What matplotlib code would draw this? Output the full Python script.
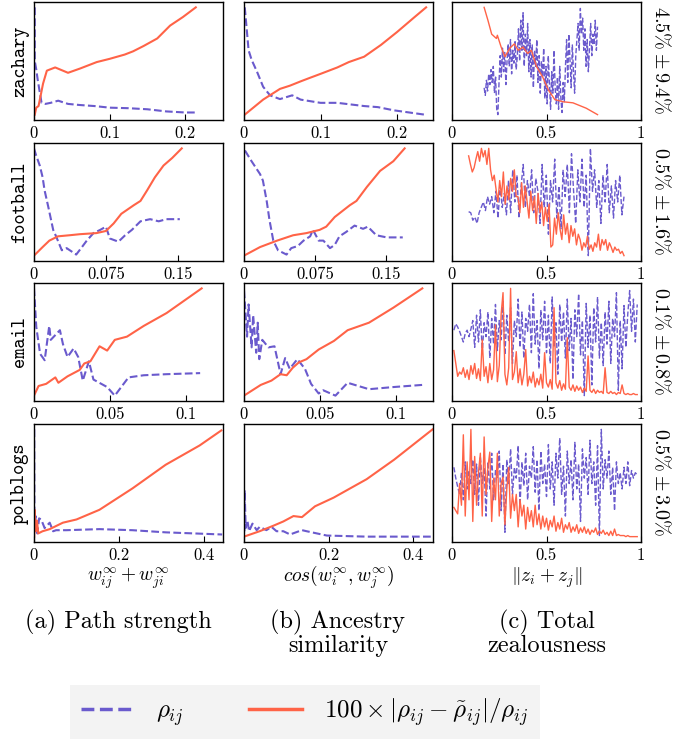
import numpy as np
import matplotlib
matplotlib.use('Agg')
import matplotlib.pyplot as plt
from matplotlib.lines import Line2D

plt.rcParams['font.family'] = 'cmr10'
plt.rcParams['mathtext.fontset'] = 'cm'
plt.rcParams['axes.unicode_minus'] = False

BLUE = '#6a5acd'
RED = '#ff6347'

# ---- data (each curve normalised to [0, 1]) ----
datasets = ['zachary', 'football', 'email', 'polblogs']
spreads = [r'$4.5\%\pm9.4\%$', r'$0.5\%\pm1.6\%$', r'$0.1\%\pm0.8\%$', r'$0.5\%\pm3.0\%$']

# path strength
zach_path_x_rho = [0.001, 0.001, 0.003, 0.005, 0.01, 0.015, 0.022, 0.032, 0.045, 0.06, 0.08, 0.1, 0.125, 0.15, 0.175, 0.2, 0.213]
zach_path_rho = [1.0, 0.5, 0.42, 0.32, 0.11, 0.10, 0.11, 0.13, 0.10, 0.09, 0.08, 0.065, 0.06, 0.05, 0.03, 0.02, 0.02]
zach_path_x_err = [0.001, 0.003, 0.006, 0.012, 0.017, 0.028, 0.045, 0.061, 0.083, 0.1, 0.12, 0.131, 0.145, 0.163, 0.18, 0.197, 0.214]
zach_path_err = [0.0, 0.065, 0.08, 0.29, 0.41, 0.44, 0.39, 0.43, 0.49, 0.52, 0.56, 0.59, 0.64, 0.71, 0.83, 0.91, 1.0]

foot_path_x_rho = [0.0, 0.002, 0.006, 0.009, 0.011, 0.015, 0.02, 0.023, 0.029, 0.034, 0.039, 0.044, 0.05, 0.055, 0.062, 0.069, 0.075, 0.079, 0.088, 0.095, 0.102, 0.111, 0.121, 0.13, 0.138, 0.152]
foot_path_rho = [1.0, 0.94, 0.84, 0.73, 0.61, 0.45, 0.24, 0.18, 0.05, 0.07, 0.04, 0.01, 0.08, 0.14, 0.21, 0.24, 0.27, 0.16, 0.13, 0.19, 0.24, 0.32, 0.34, 0.32, 0.34, 0.34]
foot_path_x_err = [0.0, 0.009, 0.016, 0.025, 0.037, 0.048, 0.065, 0.075, 0.083, 0.091, 0.104, 0.111, 0.118, 0.126, 0.135, 0.144, 0.154]
foot_path_err = [0.0, 0.08, 0.14, 0.18, 0.19, 0.20, 0.21, 0.23, 0.30, 0.39, 0.47, 0.51, 0.61, 0.73, 0.84, 0.91, 1.0]

email_path_x_rho = [0.0, 0.0015, 0.004, 0.007, 0.01, 0.011, 0.015, 0.017, 0.019, 0.022, 0.026, 0.029, 0.032, 0.036, 0.039, 0.048, 0.053, 0.062, 0.072, 0.087, 0.109]
email_path_rho = [1.0, 0.64, 0.39, 0.33, 0.65, 0.52, 0.58, 0.61, 0.48, 0.36, 0.44, 0.36, 0.14, 0.32, 0.15, 0.08, 0.0, 0.17, 0.19, 0.20, 0.21]
email_path_x_err = [0.0, 0.003, 0.008, 0.014, 0.016, 0.022, 0.03, 0.033, 0.037, 0.043, 0.048, 0.053, 0.061, 0.072, 0.087, 0.11]
email_path_err = [0.0, 0.09, 0.11, 0.17, 0.12, 0.18, 0.24, 0.30, 0.32, 0.46, 0.42, 0.52, 0.55, 0.65, 0.77, 1.0]

pol_path_x_rho = [0.0005, 0.001, 0.004, 0.008, 0.012, 0.017, 0.025, 0.037, 0.045, 0.052, 0.076, 0.154, 0.232, 0.31, 0.443]
pol_path_rho = [1.0, 0.05, 0.19, 0.03, 0.17, 0.16, 0.08, 0.13, 0.05, 0.06, 0.06, 0.07, 0.06, 0.04, 0.02]
pol_path_x_err = [0.0005, 0.0015, 0.004, 0.007, 0.01, 0.02, 0.037, 0.068, 0.1, 0.154, 0.232, 0.31, 0.39, 0.441]
pol_path_err = [0.0, 0.25, 0.05, 0.15, 0.03, 0.05, 0.07, 0.13, 0.16, 0.25, 0.45, 0.67, 0.85, 0.99]

# ancestry similarity
zach_anc_x_rho = [0.001, 0.006, 0.01, 0.017, 0.025, 0.034, 0.047, 0.063, 0.074, 0.1, 0.122, 0.157, 0.175, 0.196, 0.236]
zach_anc_rho = [1.0, 0.6, 0.51, 0.4, 0.26, 0.18, 0.145, 0.18, 0.14, 0.11, 0.11, 0.08, 0.07, 0.04, 0.0]
zach_anc_x_err = [0.001, 0.025, 0.047, 0.06, 0.074, 0.085, 0.1, 0.122, 0.137, 0.157, 0.179, 0.2, 0.223, 0.238]
zach_anc_err = [0.0, 0.14, 0.24, 0.27, 0.31, 0.34, 0.38, 0.44, 0.49, 0.54, 0.65, 0.77, 0.91, 1.0]

foot_anc_x_rho = [0.001, 0.008, 0.017, 0.02, 0.024, 0.027, 0.031, 0.036, 0.045, 0.05, 0.057, 0.063, 0.07, 0.073, 0.079, 0.084, 0.091, 0.096, 0.101, 0.108, 0.117, 0.126, 0.131, 0.14, 0.151, 0.168]
foot_anc_rho = [0.98, 0.88, 0.76, 0.70, 0.51, 0.33, 0.14, 0.05, 0.01, 0.07, 0.09, 0.14, 0.18, 0.24, 0.14, 0.14, 0.07, 0.10, 0.18, 0.22, 0.28, 0.25, 0.27, 0.19, 0.17, 0.17]
foot_anc_x_err = [0.0, 0.017, 0.035, 0.052, 0.066, 0.08, 0.087, 0.096, 0.112, 0.119, 0.13, 0.144, 0.158, 0.17]
foot_anc_err = [0.0, 0.08, 0.14, 0.19, 0.21, 0.24, 0.27, 0.36, 0.47, 0.51, 0.64, 0.79, 0.88, 1.0]

email_anc_x_rho = [0.0, 0.002, 0.003, 0.005, 0.006, 0.008, 0.009, 0.01, 0.012, 0.016, 0.02, 0.024, 0.027, 0.03, 0.035, 0.04, 0.044, 0.049, 0.052, 0.06, 0.068, 0.082, 0.098, 0.117]
email_anc_rho = [0.98, 0.55, 0.85, 0.45, 0.75, 0.40, 0.68, 0.34, 0.52, 0.45, 0.46, 0.20, 0.35, 0.25, 0.34, 0.25, 0.11, 0.02, 0.05, 0.0, 0.12, 0.06, 0.08, 0.10]
email_anc_x_err = [0.0, 0.011, 0.018, 0.024, 0.028, 0.032, 0.036, 0.041, 0.049, 0.059, 0.068, 0.082, 0.098, 0.117]
email_anc_err = [0.0, 0.10, 0.14, 0.20, 0.19, 0.26, 0.31, 0.34, 0.43, 0.51, 0.61, 0.68, 0.82, 1.0]

pol_anc_x_rho = [0.001, 0.0015, 0.004, 0.008, 0.012, 0.02, 0.03, 0.037, 0.053, 0.065, 0.077, 0.093, 0.109, 0.137, 0.148, 0.196, 0.29, 0.446]
pol_anc_rho = [0.05, 0.43, 0.08, 0.15, 0.05, 0.12, 0.06, 0.09, 0.06, 0.09, 0.05, 0.05, 0.02, 0.06, 0.05, 0.01, 0.0, 0.0]
pol_anc_x_err = [0.0, 0.037, 0.069, 0.093, 0.117, 0.137, 0.168, 0.212, 0.267, 0.29, 0.355, 0.446]
pol_anc_err = [0.0, 0.05, 0.10, 0.14, 0.19, 0.18, 0.28, 0.36, 0.48, 0.53, 0.71, 0.99]

# total zealousness (noisy, evenly sampled between the given ends)
zach_zeal_rho_span = (0.17, 0.77)
zach_zeal_rho = [0.25, 0.18, 0.32, 0.22, 0.38, 0.28, 0.42, 0.30, 0.45, 0.20, 0.35, 0.05, 0.0,
                 0.30, 0.55, 0.35, 0.62, 0.40, 0.58, 0.28, 0.50, 0.66, 0.45, 0.70, 0.38, 0.60, 0.48, 0.68, 0.42,
                 0.55, 0.80, 0.50, 0.88, 0.60, 0.95, 0.45, 0.75, 0.55, 0.85, 0.40, 0.70,
                 0.35, 0.65, 0.25, 0.60, 0.45, 0.70, 0.30, 0.55, 0.20, 0.50, 0.35, 0.62,
                 0.15, 0.45, 0.10, 0.55, 0.30, 0.05, 0.40, 0.20, 0.60, 0.25, 0.10, 0.35, 0.05, 0.45, 0.15, 0.02, 0.30, 0.12,
                 0.45, 0.70, 0.30, 0.75, 0.50, 0.25, 0.65, 0.40, 0.20, 0.55, 0.70, 0.85, 0.60,
                 0.99, 0.75, 0.90, 0.60, 0.80, 0.45, 0.70, 0.40, 0.62, 0.85, 0.55, 0.75, 0.65, 0.88, 0.60, 0.82]
zach_zeal_x_err = [0.17, 0.19, 0.21, 0.235, 0.24, 0.26, 0.28, 0.306, 0.33, 0.35, 0.376, 0.4, 0.42, 0.447, 0.48, 0.51, 0.544, 0.588, 0.64, 0.71, 0.77]
zach_zeal_err = [1.0, 0.88, 0.75, 0.71, 0.74, 0.63, 0.54, 0.62, 0.66, 0.60, 0.63, 0.57, 0.60, 0.45, 0.35, 0.23, 0.14, 0.12, 0.11, 0.06, 0.0]

foot_zeal_rho_span = (0.088, 0.91)
foot_zeal_rho = [0.41, 0.40, 0.33, 0.36, 0.30, 0.40, 0.45, 0.50, 0.42, 0.55, 0.48,
                 0.55, 0.40, 0.60, 0.35, 0.65, 0.45, 0.58, 0.38,
                 0.70, 0.40, 0.80, 0.50, 0.75, 0.35, 0.65, 0.85, 0.45, 0.70, 0.55, 0.80, 0.40, 0.72,
                 0.60, 0.30, 0.85, 0.45, 0.75, 0.20, 0.70, 0.50, 0.90, 0.35, 0.65, 0.25, 0.80,
                 0.55, 0.85, 0.40, 0.95, 0.60, 0.30, 0.80, 0.50, 0.90, 0.45, 0.75,
                 0.0, 1.0,
                 0.60, 0.80, 0.45, 0.70, 0.30, 0.75, 0.50, 0.85, 0.40, 0.65, 0.35, 0.70, 0.50, 0.75, 0.38, 0.55]
foot_zeal_err_span = (0.088, 0.91)
foot_zeal_err = [0.93, 0.85, 0.78, 0.82,
                 0.90, 0.97, 0.88, 1.0, 0.92, 0.98, 0.85, 1.0,
                 0.80, 0.70, 0.75, 0.62,
                 0.50, 0.70, 0.55, 0.78, 0.48, 0.65,
                 0.52, 0.72, 0.60, 0.80, 0.55,
                 0.55, 0.40, 0.68, 0.45, 0.65, 0.50,
                 0.35, 0.60, 0.42, 0.55, 0.30, 0.58, 0.40, 0.50, 0.28, 0.45, 0.32, 0.48, 0.08,
                 0.10, 0.35, 0.20, 0.40, 0.25, 0.15, 0.38, 0.20, 0.30, 0.12, 0.28, 0.18, 0.25, 0.10, 0.20,
                 0.15, 0.05, 0.12, 0.08, 0.18, 0.06, 0.10, 0.04, 0.12, 0.08, 0.20, 0.05, 0.15,
                 0.10, 0.15, 0.05, 0.12, 0.08, 0.03, 0.08, 0.05, 0.06, 0.02, 0.04, 0.0]

email_zeal_span = (0.01, 0.98)
email_zeal_rho = [0.61, 0.67, 0.64, 0.60, 0.55, 0.50, 0.58, 0.61, 0.55, 0.62,
                  0.70, 0.45, 0.75, 0.50, 0.80, 0.40, 0.68, 0.55, 0.78, 0.35,
                  0.72, 0.48, 0.85, 0.42, 0.70, 0.52, 0.88, 0.38, 0.75, 0.50,
                  0.82, 0.30, 0.70, 0.55, 0.90, 0.45, 0.78, 0.35, 0.72, 0.60,
                  0.85, 0.40, 0.95, 0.48, 0.70, 0.25, 0.80, 0.52, 0.88, 0.40,
                  0.75, 0.30, 0.92, 0.45, 0.68, 0.20, 0.85, 0.50, 0.78, 0.35,
                  0.90, 0.42, 0.72, 0.15, 0.80, 0.55, 0.95, 0.38, 0.70, 0.00,
                  0.86, 0.45, 0.75, 0.10, 0.82, 0.50, 0.92, 0.35, 0.68, 0.28,
                  0.78, 0.48, 0.88, 0.30, 0.72, 0.55, 0.96, 0.05, 0.70, 0.25,
                  0.84, 0.45, 0.76, 0.98, 0.60, 0.90, 0.50, 0.85]
email_zeal_err = [0.42, 0.30, 0.18, 0.22, 0.20, 0.26, 0.17, 0.24, 0.15, 0.28,
                  0.20, 0.30, 0.16, 0.25, 0.14, 0.52, 0.18, 0.27, 0.12, 0.30,
                  0.15, 0.24, 0.66, 0.13, 0.28, 0.76, 0.96, 0.20, 0.10, 0.26,
                  1.00, 0.15, 0.22, 0.41, 0.12, 0.25, 0.10, 0.20, 0.43, 0.09,
                  0.18, 0.12, 0.22, 0.08, 0.16, 0.10, 0.20, 0.07, 0.40, 0.12,
                  0.08, 0.15, 0.06, 0.82, 0.12, 0.07, 0.14, 0.05, 0.11, 0.06,
                  0.54, 0.08, 0.05, 0.10, 0.04, 0.09, 0.05, 0.08, 0.03, 0.07,
                  0.04, 0.37, 0.05, 0.03, 0.06, 0.02, 0.05, 0.03, 0.04, 0.02,
                  0.26, 0.03, 0.02, 0.04, 0.02, 0.03, 0.01, 0.03, 0.02, 0.10,
                  0.02, 0.01, 0.02, 0.01, 0.01, 0.02, 0.01, 0.01]

pol_zeal_span = (0.01, 0.98)
pol_zeal_rho = [0.65, 0.55, 0.47, 0.40, 0.60, 0.35, 0.70, 0.45, 0.62, 0.50,
                0.72, 0.40, 0.68, 0.30, 0.75, 0.50, 0.65, 0.20, 0.70, 0.45,
                0.78, 0.35, 0.62, 0.55, 0.80, 0.25, 0.68, 0.05, 0.72, 0.50,
                0.82, 0.40, 0.65, 0.55, 0.85, 0.30, 0.70, 0.48, 0.78, 0.35,
                0.66, 0.55, 0.84, 0.42, 0.72, 0.25, 0.80, 0.50, 0.68, 0.38,
                0.86, 0.45, 0.70, 0.30, 0.78, 0.55, 0.92, 0.40, 0.66, 0.20,
                0.80, 0.50, 0.72, 0.35, 0.88, 0.45, 0.68, 0.15, 0.82, 0.55,
                0.74, 0.40, 0.90, 0.50, 0.70, 0.30, 0.85, 0.02, 1.00, 0.45,
                0.72, 0.55, 0.80, 0.40, 0.65, 0.25, 0.70, 0.50, 0.60, 0.45,
                0.65, 0.50, 0.70, 0.48, 0.62, 0.55, 0.60, 0.58]
pol_zeal_err = [0.28, 0.25, 0.22, 0.50, 0.30, 0.95, 0.20, 0.70, 0.35, 1.00,
                0.15, 0.75, 0.30, 0.60, 0.78, 0.20, 0.93, 0.40, 0.65, 0.79,
                0.15, 0.55, 0.35, 0.78, 0.20, 0.50, 0.56, 0.12, 0.45, 0.65,
                0.18, 0.40, 0.25, 0.40, 0.10, 0.35, 0.20, 0.30, 0.08, 0.28,
                0.15, 0.25, 0.10, 0.30, 0.12, 0.22, 0.08, 0.20, 0.10, 0.18,
                0.07, 0.16, 0.10, 0.20, 0.06, 0.14, 0.08, 0.18, 0.05, 0.12,
                0.08, 0.14, 0.05, 0.10, 0.06, 0.12, 0.04, 0.09, 0.05, 0.10,
                0.04, 0.08, 0.03, 0.07, 0.05, 0.09, 0.03, 0.06, 0.04, 0.07,
                0.03, 0.05, 0.02, 0.06, 0.02, 0.08, 0.02, 0.03, 0.02, 0.02,
                0.02, 0.01, 0.02, 0.01, 0.01, 0.01, 0.01, 0.01]


def even(span, vals):
    return np.linspace(span[0], span[1], len(vals))


panels = [
    [(zach_path_x_rho, zach_path_rho, zach_path_x_err, zach_path_err),
     (zach_anc_x_rho, zach_anc_rho, zach_anc_x_err, zach_anc_err),
     (even(zach_zeal_rho_span, zach_zeal_rho), zach_zeal_rho, zach_zeal_x_err, zach_zeal_err)],
    [(foot_path_x_rho, foot_path_rho, foot_path_x_err, foot_path_err),
     (foot_anc_x_rho, foot_anc_rho, foot_anc_x_err, foot_anc_err),
     (even(foot_zeal_rho_span, foot_zeal_rho), foot_zeal_rho, even(foot_zeal_err_span, foot_zeal_err), foot_zeal_err)],
    [(email_path_x_rho, email_path_rho, email_path_x_err, email_path_err),
     (email_anc_x_rho, email_anc_rho, email_anc_x_err, email_anc_err),
     (even(email_zeal_span, email_zeal_rho), email_zeal_rho, even(email_zeal_span, email_zeal_err), email_zeal_err)],
    [(pol_path_x_rho, pol_path_rho, pol_path_x_err, pol_path_err),
     (pol_anc_x_rho, pol_anc_rho, pol_anc_x_err, pol_anc_err),
     (even(pol_zeal_span, pol_zeal_rho), pol_zeal_rho, even(pol_zeal_span, pol_zeal_err), pol_zeal_err)],
]

xmax = [[0.25, 0.247, 1.0], [0.197, 0.2, 1.0], [0.124, 0.124, 1.0], [0.445, 0.447, 1.0]]
xticks = [[0, 0.1, 0.2], [0, 0.075, 0.15], [0, 0.05, 0.1], [0, 0.2, 0.4]]
xticklabels = [['0', '0.1', '0.2'], ['0', '0.075', '0.15'], ['0', '0.05', '0.1'], ['0', '0.2', '0.4']]

W, H = 690, 739
fig = plt.figure(figsize=(W / 100, H / 100), dpi=100)

col_left = [34, 244, 452]
row_top = [2, 143, 283, 424]
aw, ah = 189, 118

for r in range(4):
    for c in range(3):
        ax = fig.add_axes([col_left[c] / W, 1 - (row_top[r] + ah) / H, aw / W, ah / H])
        xr, yr, xe, ye = panels[r][c]
        lw = 1.0 if c == 2 else 1.5
        ax.plot(xr, yr, color=BLUE, ls='--', lw=lw)
        ax.plot(xe, ye, color=RED, ls='-', lw=lw)
        ax.set_xlim(0, xmax[r][c])
        ax.set_yticks([])
        if c == 2:
            ax.set_xticks([0, 0.5, 1])
            ax.set_xticklabels(['0', '0.5', '1'])
        else:
            ax.set_xticks(xticks[r])
            ax.set_xticklabels(xticklabels[r])
        ax.tick_params(axis='x', direction='in', length=4, labelsize=12, pad=4)
        for s in ax.spines.values():
            s.set_linewidth(1.0)
    fig.text(20 / W, 1 - (row_top[r] + ah / 2) / H, datasets[r], rotation=90,
             ha='center', va='center', family='cmtt10', fontsize=14)
    fig.text(661 / W, 1 - (row_top[r] + ah / 2 - 1) / H, spreads[r], rotation=270,
             ha='center', va='center', fontsize=14.5)

xlabels = [r'$w_{ij}^{\infty}+w_{ji}^{\infty}$', r'$cos(w_i^{\infty},w_j^{\infty})$', r'$\|z_i+z_j\|$']
captions = [['(a) Path strength'], ['(b) Ancestry', 'similarity'], ['(c) Total', 'zealousness']]
caption_x = [118, 338, 547]
for c in range(3):
    cx = (col_left[c] + aw / 2) / W
    fig.text(cx, 1 - 578 / H, xlabels[c], ha='center', va='center', fontsize=14)
    for k, line in enumerate(captions[c]):
        fig.text(caption_x[c] / W, 1 - (622 + 24 * k) / H, line, ha='center', va='center', fontsize=17.5)

handles = [Line2D([], [], color=BLUE, ls='--', lw=2.5),
           Line2D([], [], color=RED, ls='-', lw=2.5)]
labels = [r'$\rho_{ij}$', r'$100\times|\rho_{ij}-\tilde{\rho}_{ij}|/\rho_{ij}$']
leg = fig.legend(handles, labels, loc='center', bbox_to_anchor=(305 / W, 1 - 712 / H),
                 ncol=2, frameon=True, fancybox=False, facecolor='#f3f3f3', edgecolor='none',
                 fontsize=18, handlelength=2.1, columnspacing=2.6, handletextpad=0.9,
                 borderpad=0.45, borderaxespad=0, framealpha=1)

fig.savefig('out.png', dpi=100)
